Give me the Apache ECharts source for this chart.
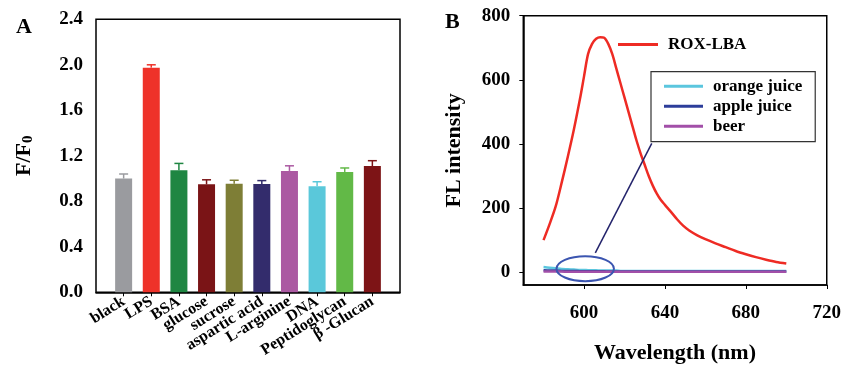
<!DOCTYPE html>
<html><head><meta charset="utf-8">
<script src="https://cdn.jsdelivr.net/npm/echarts@6/dist/echarts.min.js"></script>
<style>html,body{margin:0;padding:0;background:#fff}#c{width:844px;height:369px}</style>
</head><body><div id="c"></div>
<script>
// Panel A data
var categories = ['black','LPS','BSA','glucose','sucrose','aspartic acid','L-arginine','DNA','Peptidoglycan','β -Glucan'];
var ratioValues = [1.00, 1.975, 1.073, 0.949, 0.955, 0.952, 1.067, 0.932, 1.058, 1.11];
var ratioErrors = [0.04, 0.025, 0.06, 0.04, 0.03, 0.03, 0.045, 0.04, 0.035, 0.047];
var barColors = ['#9a9b9f','#ee3229','#1f8642','#7a1416','#7e7e36','#332c6c','#ab59a2','#5ac8da','#62b947','#7d1416'];
var yTicksA = [0, 0.4, 0.8, 1.2, 1.6, 2.0, 2.4];

// Panel B data
var wavelength = [580,583,586,589,592,595,598,600,602,604,606,608,610,612,614,616,618,620,622,624,626,628,630,632,634,636,638,640,643,646,649,652,656,660,665,670,675,680,685,690,695,700];
var roxLba = [100,150,205,280,360,445,540,610,680,712,728,733,731,712,680,635,590,545,500,455,410,370,335,300,270,245,225,210,188,165,145,130,115,103,90,78,66,56,47,39,32,27];
var orangeJuice = [16,14,12,10,9,8,7,7,6,6,6,5,5,5,5,5,4,4,4,4,4,4,4,4,4,4,4,4,4,4,4,4,4,4,4,4,4,4,4,4,4,4];
var appleJuice = [6,5,5,4,4,4,3,3,3,3,3,3,3,2,2,2,2,2,2,2,2,2,2,2,2,2,2,2,2,2,2,2,2,2,2,2,2,2,2,2,2,2];
var beer = [2,2,2,2,1,1,1,1,1,1,1,1,1,1,1,1,1,1,1,1,1,1,1,1,1,1,1,1,1,1,1,1,1,1,1,1,1,1,1,1,1,1];
var xTicksB = [600, 640, 680, 720];
var yTicksB = [0, 200, 400, 600, 800];
var ellipseMark = [[600.6, 11, 14.2, 39]];
var pointerLine = [[605.6, 60], [633.5, 402]];

var FONT = '"Liberation Serif", "Times New Roman", serif';
var chart = echarts.init(document.getElementById('c'), null, {renderer: 'canvas'});

// pad with empty slots at both ends so the bars sit inside the frame like the original
var axisCats = [''].concat(categories, ['']);
var barData = ['-'].concat(ratioValues.map(function (v, i) {
  return {value: v, itemStyle: {color: barColors[i]}};
}), ['-']);
var errData = ratioValues.map(function (v, i) { return [i + 1, v, v + ratioErrors[i], i]; });

function zip(xs, ys) { return xs.map(function (x, i) { return [x, ys[i]]; }); }

var option = {
  animation: false,
  backgroundColor: '#fff',
  graphic: [
    {type: 'text', left: 16, top: 16, style: {text: 'A', font: 'bold 22px ' + FONT, fill: '#000'}},
    {type: 'text', left: 445, top: 11, style: {text: 'B', font: 'bold 22px ' + FONT, fill: '#000'}}
  ],
  grid: [
    {left: 96, top: 19.3, width: 304, height: 273, show: true, borderColor: '#000', borderWidth: 1.5, backgroundColor: 'transparent'},
    {left: 523.3, top: 15.7, width: 306, height: 274.3, show: true, borderColor: '#000', borderWidth: 1.5, backgroundColor: 'transparent'}
  ],
  legend: [
    {
      data: [{name: 'ROX-LBA', icon: 'rect'}],
      left: 613, top: 31, itemWidth: 40, itemHeight: 3,
      textStyle: {fontFamily: FONT, fontWeight: 'bold', fontSize: 17, color: '#000', padding: [0, 0, 0, 5]},
      selectedMode: false
    },
    {
      data: [{name: 'orange juice', icon: 'rect'}, {name: 'apple juice', icon: 'rect'}, {name: 'beer', icon: 'rect'}],
      orient: 'vertical', left: 651, top: 71.7, itemWidth: 39, itemHeight: 3, itemGap: 3,
      padding: [6, 13, 7, 13],
      borderColor: '#333', borderWidth: 1.2,
      textStyle: {fontFamily: FONT, fontWeight: 'bold', fontSize: 17, color: '#000', padding: [0, 0, 0, 5]},
      selectedMode: false
    }
  ],
  xAxis: [
    {
      type: 'category', gridIndex: 0, data: axisCats, boundaryGap: false,
      splitLine: {show: false},
      axisLine: {onZero: false, lineStyle: {color: '#000', width: 1.5}},
      axisTick: {interval: function (idx) { return idx > 0 && idx < axisCats.length - 1; }, length: 4, lineStyle: {color: '#000'}},
      axisLabel: {
        interval: 0, rotate: 32, margin: 8, hideOverlap: false,
        fontFamily: FONT, fontWeight: 'bold', fontSize: 16, color: '#000'
      }
    },
    {
      type: 'value', gridIndex: 1, min: 570, max: 720,
      name: 'Wavelength (nm)', nameLocation: 'middle', nameGap: 57, nameMoveOverlap: false,
      nameTextStyle: {fontFamily: FONT, fontWeight: 'bold', fontSize: 22, color: '#000'},
      splitLine: {show: false},
      axisLine: {onZero: false, lineStyle: {color: '#000', width: 1.5}},
      axisTick: {customValues: xTicksB, length: 4, lineStyle: {color: '#000'}},
      axisLabel: {customValues: xTicksB, margin: 19, showMinLabel: true, showMaxLabel: true,
        fontFamily: FONT, fontWeight: 'bold', fontSize: 19, color: '#000'}
    }
  ],
  yAxis: [
    {
      type: 'value', gridIndex: 0, min: 0, max: 2.4,
      name: '{a|F/F}{b|0}', nameLocation: 'middle', nameGap: 60, nameRotate: 90, nameMoveOverlap: false,
      nameTextStyle: {
        fontFamily: FONT, fontWeight: 'bold', fontSize: 22, color: '#000',
        rich: {
          a: {fontFamily: FONT, fontWeight: 'bold', fontSize: 22, color: '#000'},
          b: {fontFamily: FONT, fontWeight: 'bold', fontSize: 15, color: '#000', verticalAlign: 'bottom', padding: [8, 0, 0, 0]}
        }
      },
      splitLine: {show: false},
      axisLine: {onZero: false, lineStyle: {color: '#000', width: 1.5}},
      axisTick: {customValues: yTicksA, length: 4, lineStyle: {color: '#000'}},
      axisLabel: {customValues: yTicksA, margin: 13, showMinLabel: true, showMaxLabel: true,
        formatter: function (v) { return v.toFixed(1); },
        fontFamily: FONT, fontWeight: 'bold', fontSize: 19, color: '#000'}
    },
    {
      type: 'value', gridIndex: 1, min: -40, max: 800,
      name: 'FL intensity', nameLocation: 'middle', nameGap: 58, nameMoveOverlap: false,
      nameTextStyle: {fontFamily: FONT, fontWeight: 'bold', fontSize: 22, color: '#000'},
      splitLine: {show: false},
      axisLine: {onZero: false, lineStyle: {color: '#000', width: 1.5}},
      axisTick: {customValues: yTicksB, length: 4, lineStyle: {color: '#000'}},
      axisLabel: {customValues: yTicksB, margin: 13, showMinLabel: true, showMaxLabel: true,
        fontFamily: FONT, fontWeight: 'bold', fontSize: 19, color: '#000'}
    }
  ],
  series: [
    {type: 'bar', xAxisIndex: 0, yAxisIndex: 0, barWidth: 17, data: barData, silent: true},
    {
      type: 'custom', xAxisIndex: 0, yAxisIndex: 0, data: errData, silent: true,
      renderItem: function (params, api) {
        var x = api.value(0), lo = api.coord([x, api.value(1)]), hi = api.coord([x, api.value(2)]);
        var c = barColors[api.value(3)];
        return {type: 'group', children: [
          {type: 'line', shape: {x1: lo[0], y1: lo[1], x2: hi[0], y2: hi[1]}, style: {stroke: c, lineWidth: 1.5}},
          {type: 'line', shape: {x1: hi[0] - 4.5, y1: hi[1], x2: hi[0] + 4.5, y2: hi[1]}, style: {stroke: c, lineWidth: 1.5}}
        ]};
      }
    },
    {name: 'ROX-LBA', type: 'line', xAxisIndex: 1, yAxisIndex: 1, data: zip(wavelength, roxLba), showSymbol: false, smooth: 0.3,
      lineStyle: {color: '#ee2b24', width: 2.5}, itemStyle: {color: '#ee2b24'}},
    {name: 'orange juice', type: 'line', xAxisIndex: 1, yAxisIndex: 1, data: zip(wavelength, orangeJuice), showSymbol: false, smooth: 0.3,
      lineStyle: {color: '#5bc6de', width: 2.5}, itemStyle: {color: '#5bc6de'}},
    {name: 'apple juice', type: 'line', xAxisIndex: 1, yAxisIndex: 1, data: zip(wavelength, appleJuice), showSymbol: false, smooth: 0.3,
      lineStyle: {color: '#2c3d9a', width: 2.5}, itemStyle: {color: '#2c3d9a'}},
    {name: 'beer', type: 'line', xAxisIndex: 1, yAxisIndex: 1, data: zip(wavelength, beer), showSymbol: false, smooth: 0.3,
      lineStyle: {color: '#a24fa8', width: 2.5}, itemStyle: {color: '#a24fa8'},
      markLine: {silent: true, symbol: ['none', 'none'], label: {show: false},
        lineStyle: {color: '#23236b', width: 1.5, type: 'solid'},
        data: [[{coord: pointerLine[0]}, {coord: pointerLine[1]}]]}},
    {
      type: 'custom', xAxisIndex: 1, yAxisIndex: 1, data: ellipseMark, silent: true, z: 5,
      renderItem: function (params, api) {
        var c = api.coord([api.value(0), api.value(1)]);
        var s = api.size([api.value(2), api.value(3)]);
        return {type: 'ellipse', shape: {cx: c[0], cy: c[1], rx: s[0], ry: s[1]}, style: {fill: 'none', stroke: '#3b55b0', lineWidth: 2}};
      }
    }
  ]
};
chart.setOption(option);
</script></body></html>
